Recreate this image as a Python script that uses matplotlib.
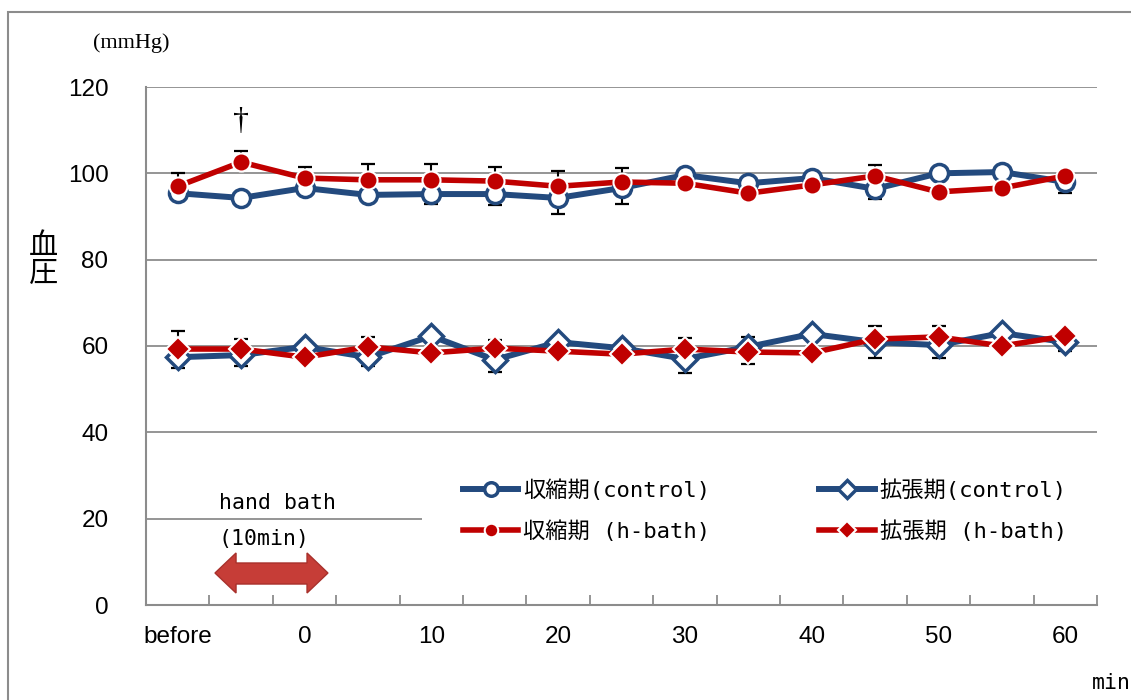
import matplotlib
matplotlib.use('Agg')
import matplotlib.pyplot as plt
import matplotlib.patches as mpatches
import numpy as np

plt.rcParams['font.family'] = ['Liberation Sans', 'Noto Sans CJK JP']

# カテゴリ (5分おき、ラベルは1つ飛ばし)
labels = ['before', '', '0', '', '10', '', '20', '', '30', '', '40', '', '50', '', '60']

# 収縮期 / 拡張期 (mmHg)
sys_control = [95.4, 94.3, 96.6, 95.0, 95.2, 95.2, 94.3, 96.6, 99.6, 97.7, 98.9, 96.4, 100.0, 100.3, 98.0]
sys_control_err = [1.0, 0.5, 0.8, 1.0, 2.3, 2.5, 3.7, 3.7, 1.5, 0.8, 1.0, 2.4, 0.5, 0.5, 2.6]
sys_hbath = [97.0, 102.6, 98.9, 98.5, 98.5, 98.2, 97.0, 98.0, 97.7, 95.4, 97.3, 99.4, 95.7, 96.6, 99.4]
sys_hbath_err = [3.0, 2.6, 2.6, 3.7, 3.7, 3.3, 3.5, 3.2, 1.0, 0.8, 1.0, 2.5, 0.8, 0.8, 0.8]
dia_control = [57.4, 57.9, 59.8, 57.4, 62.3, 56.8, 60.9, 59.5, 57.0, 59.8, 62.8, 60.9, 60.2, 63.0, 60.9]
dia_control_err = [2.5, 2.5, 1.5, 2.0, 1.0, 2.8, 1.0, 1.0, 3.3, 4.0, 1.0, 3.7, 3.0, 1.0, 2.1]
dia_hbath = [59.3, 59.3, 57.4, 59.8, 58.4, 59.5, 58.8, 58.1, 59.3, 58.6, 58.4, 61.6, 62.1, 60.0, 62.3]
dia_hbath_err = [4.2, 2.3, 1.0, 2.3, 1.0, 1.9, 1.0, 1.0, 2.6, 3.5, 1.0, 3.0, 2.5, 1.0, 1.0]

BLUE = '#234A7E'
RED = '#C00000'
GREY = '#8c8c8c'
mono = ['DejaVu Sans Mono', 'Noto Sans CJK JP']

fig = plt.figure(figsize=(11.31, 7), dpi=100)
ax = fig.add_axes([146 / 1131, 1 - 605 / 700, (1097 - 146) / 1131, (605 - 87) / 700])
x = np.arange(len(labels))
zeros = np.zeros(len(x))

# エラーバー (control は下側, h-bath は上側)
eb = dict(fmt='none', ecolor='black', elinewidth=1.5, capsize=5, capthick=1.6, zorder=2)
ax.errorbar(x, sys_control, yerr=[sys_control_err, zeros], **eb)
ax.errorbar(x, dia_control, yerr=[dia_control_err, zeros], **eb)
ax.errorbar(x, sys_hbath, yerr=[zeros, sys_hbath_err], **eb)
ax.errorbar(x, dia_hbath, yerr=[zeros, dia_hbath_err], **eb)

l_sc, = ax.plot(x, sys_control, color=BLUE, lw=4.3, marker='o', ms=13, mfc='white', mec=BLUE, mew=2.5, zorder=3)
l_dc, = ax.plot(x, dia_control, color=BLUE, lw=4.3, marker='D', ms=12, mfc='white', mec=BLUE, mew=2.5, zorder=3)
l_sh, = ax.plot(x, sys_hbath, color=RED, lw=4.0, marker='o', ms=13, mfc=RED, mec='white', mew=1.5, zorder=4)
l_dh, = ax.plot(x, dia_hbath, color=RED, lw=4.0, marker='D', ms=12, mfc=RED, mec='white', mew=1.5, zorder=4)

ax.set_xlim(-0.5, len(x) - 0.5)
ax.set_ylim(0, 120)
ax.set_yticks(range(0, 121, 20))
ax.yaxis.grid(True, color=GREY, lw=1.3)
ax.set_axisbelow(True)
for s in ['top', 'right']:
    ax.spines[s].set_visible(False)
for s in ['left', 'bottom']:
    ax.spines[s].set_color(GREY)
    ax.spines[s].set_linewidth(1.5)

ax.set_xticks(x, labels)
ax.set_xticks(np.arange(-0.5, len(x), 1), minor=True)
ax.tick_params(axis='x', which='major', length=0, pad=15, labelsize=17.5)
ax.tick_params(axis='x', which='minor', direction='in', length=7, color=GREY, width=1.3)
ax.tick_params(axis='y', length=0, pad=27, labelsize=17.5)

# 凡例の白い背景 (20 の目盛線を隠す)
ax.add_patch(mpatches.Rectangle(((422 - 146) / 951, (605 - 560) / 518), (1097 - 422) / 951, 105 / 518,
                                transform=ax.transAxes, facecolor='white', edgecolor='none', zorder=1))

leg = ax.legend([l_sc, l_sh, l_dc, l_dh],
                ['収縮期(control)', '収縮期 (h-bath)', '拡張期(control)', '拡張期 (h-bath)'],
                ncol=2, loc='upper left', bbox_to_anchor=((454 - 146) / 951, (605 - 470) / 518),
                borderaxespad=0, frameon=False, prop=dict(family=mono, size=16),
                handlelength=2.5, handletextpad=0.22, labelspacing=0.89, borderpad=0.4,
                columnspacing=4.9, markerscale=0.75)
leg.set_zorder(5)

# hand bath の矢印
arrow = mpatches.Polygon([(0.588, 7.41), (0.92, 12.05), (0.92, 9.73), (2.04, 9.73), (2.04, 12.05),
                          (2.37, 7.41), (2.04, 2.78), (2.04, 4.86), (0.92, 4.86), (0.92, 2.78)],
                         closed=True, facecolor='#c63d37', edgecolor='#a8302b', lw=1, zorder=6)
ax.add_patch(arrow)
ax.text(0.65, 23.6, 'hand bath', family=mono, size=15.5, va='center', ha='left', zorder=6)
ax.text(0.65, 15.4, '(10min)', family=mono, size=15.5, va='center', ha='left', zorder=6)
ax.text(1, 112.0, '†', family='Liberation Serif', size=23, va='center', ha='center')

fig.text(93 / 1131, 1 - 43 / 700, '(mmHg)', family='Liberation Serif', size=16, va='center', ha='left')
fig.text(43 / 1131, 1 - 260 / 700, '血\n圧', size=21, va='center', ha='center', linespacing=1.0)
fig.text(1092 / 1131, 1 - 683 / 700, 'min', family=mono, size=15.5, va='center', ha='left')

# 外枠
fig.patches.append(mpatches.Rectangle((8 / 1131, -0.1), 1.2, 1 - 12 / 700 + 0.1, transform=fig.transFigure,
                                      fill=False, edgecolor=GREY, lw=1.5))

fig.savefig('out.png', dpi=100)
